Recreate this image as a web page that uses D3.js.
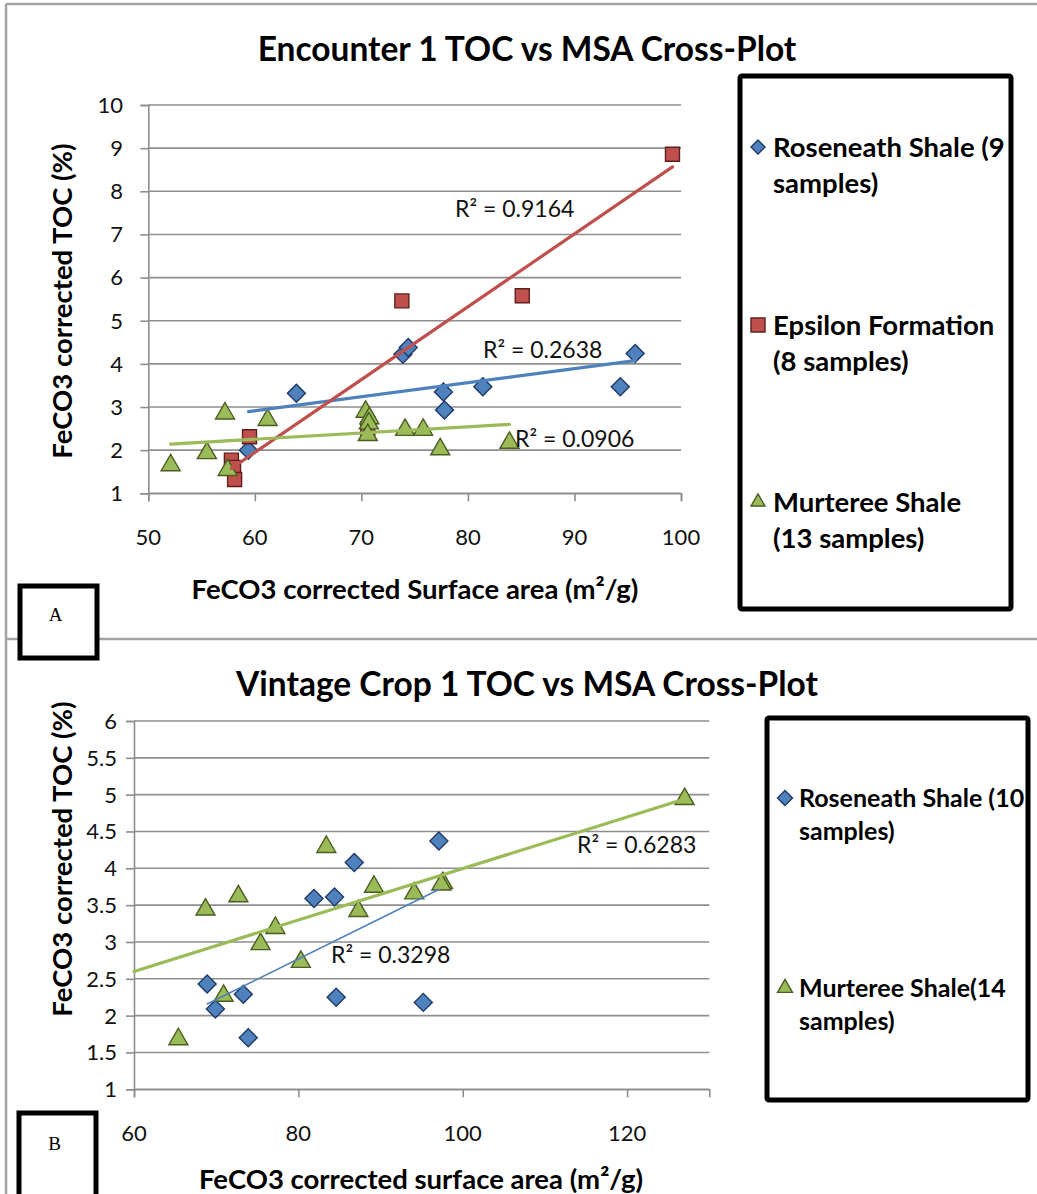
<!DOCTYPE html>
<html>
<head>
<meta charset="utf-8">
<script src="https://cdn.jsdelivr.net/npm/d3@7"></script>
<style>
  html, body { margin: 0; padding: 0; background: #fff; }
  svg { display: block; }
</style>
</head>
<body>
<svg id="fig" width="1037" height="1194"></svg>
<script>
// ---------- Encounter 1 ----------
const encXTicks = [50, 60, 70, 80, 90, 100];
const encYTicks = [1, 2, 3, 4, 5, 6, 7, 8, 9, 10];

const encRoseneathX = [59.4, 63.9, 73.9, 74.4, 77.7, 77.8, 81.4, 94.3, 95.7];
const encRoseneathY = [2.00, 3.32, 4.22, 4.38, 3.35, 2.93, 3.47, 3.47, 4.24];

const encEpsilonX = [57.8, 58.0, 58.1, 59.5, 70.6, 73.8, 85.1, 99.2];
const encEpsilonY = [1.77, 1.60, 1.32, 2.31, 2.50, 5.46, 5.58, 8.86];

const encMurtereeX = [52.1, 55.5, 57.2, 57.45, 61.2, 70.4, 70.75, 70.7, 70.6, 74.1, 75.8, 77.4, 83.9];
const encMurtereeY = [1.65, 1.93, 2.85, 1.54, 2.70, 2.89, 2.74, 2.62, 2.35, 2.47, 2.47, 2.02, 2.17];

const encLegend = [["Roseneath Shale (9", "samples)"], ["Epsilon Formation", "(8 samples)"], ["Murteree Shale", "(13 samples)"]];
const encR2 = ["R² = 0.2638", "R² = 0.9164", "R² = 0.0906"];
const encTrendSlope = [0.0326, 0.1688, 0.0144];
const encTrendIntercept = [0.957, -8.18, 1.39];

// ---------- Vintage Crop 1 ----------
const vinXTicks = [60, 80, 100, 120];
const vinYTicks = [1, 1.5, 2, 2.5, 3, 3.5, 4, 4.5, 5, 5.5, 6];

const vinRoseneathX = [68.9, 69.9, 73.3, 73.9, 81.9, 84.4, 86.8, 84.6, 95.2, 97.1];
const vinRoseneathY = [2.43, 2.09, 2.29, 1.70, 3.59, 3.61, 4.08, 2.25, 2.18, 4.37];

const vinMurtereeX = [65.4, 68.7, 70.9, 72.7, 75.4, 77.2, 80.3, 83.4, 87.3, 89.2, 94.1, 97.6, 97.4, 127.0];
const vinMurtereeY = [1.68, 3.44, 2.27, 3.62, 2.97, 3.19, 2.73, 4.29, 3.42, 3.75, 3.66, 3.80, 3.78, 4.94];

const vinLegend = [["Roseneath Shale (10", "samples)"], ["Murteree Shale(14", "samples)"]];
const vinR2 = ["R² = 0.3298", "R² = 0.6283"];
const vinTrendSlope = [0.0551, 0.03493];
const vinTrendIntercept = [-1.638, 0.504];

// ---------- styles ----------
const FONT = "Lato, 'Open Sans', sans-serif";
const GRID = "#8e8e8e";
const STYLE = {
  diamond:  { fill: "#4f81bd", stroke: "#1f3a66", line: "#4f81bd" },
  square:   { fill: "#c0504d", stroke: "#5e1f1d", line: "#c0504d" },
  triangle: { fill: "#9bbb59", stroke: "#4a5e22", line: "#9bbb59" }
};

const svg = d3.select("#fig");

// outer frame and divider
const frame = svg.append("g").attr("stroke", "#a3a3a3").attr("stroke-width", 2.5).attr("fill", "none");
frame.append("line").attr("x1", 6).attr("x2", 1037).attr("y1", 4).attr("y2", 4);
frame.append("line").attr("x1", 6).attr("x2", 6).attr("y1", 4).attr("y2", 1194);
frame.append("line").attr("x1", 6).attr("x2", 1037).attr("y1", 639).attr("y2", 639);

function symbolPath(kind, s) {
  if (kind === "diamond") return d3.symbol(d3.symbolSquare, s * s / 2)();
  if (kind === "square") return d3.symbol(d3.symbolSquare, s * s)();
  return d3.symbol(d3.symbolTriangle, s * s * Math.sqrt(3) / 4)();
}
function marker(g, kind, x, y, s) {
  const st = STYLE[kind];
  g.append("path")
    .attr("d", symbolPath(kind, s))
    .attr("transform", `translate(${x},${y})` + (kind === "diamond" ? " rotate(45)" : ""))
    .attr("fill", st.fill).attr("stroke", st.stroke).attr("stroke-width", 1.4);
}

function drawChart(c) {
  const g = svg.append("g");
  const x = d3.scaleLinear().domain(c.xDomain).range([c.left, c.right]);
  const y = d3.scaleLinear().domain(c.yDomain).range([c.bottom, c.top]);

  // horizontal gridlines
  g.append("g").selectAll("line").data(c.yTicks).join("line")
    .attr("x1", c.left).attr("x2", c.right)
    .attr("y1", d => y(d)).attr("y2", d => y(d))
    .attr("stroke", GRID).attr("stroke-width", 1.6);

  // axes
  const yAxis = d3.axisLeft(y).tickValues(c.yTicks).tickSize(8).tickFormat("");
  const ya = g.append("g").attr("transform", `translate(${c.left},0)`).call(yAxis);
  const xAxis = d3.axisBottom(x).tickValues(c.xTicks).tickSize(8).tickFormat("");
  const xa = g.append("g").attr("transform", `translate(0,${c.bottom})`).call(xAxis);
  [ya, xa].forEach(a => {
    a.select(".domain").attr("stroke", GRID).attr("stroke-width", 1.6);
    a.selectAll(".tick line").attr("stroke", GRID).attr("stroke-width", 1.6);
  });

  // tick labels
  g.append("g").selectAll("text").data(c.yTicks).join("text")
    .attr("x", c.yLabelX).attr("y", d => y(d)).attr("dy", "0.36em")
    .attr("text-anchor", "end").attr("font-family", FONT).attr("font-size", 22)
    .attr("fill", "#111").text(d => d);
  g.append("g").selectAll("text").data(c.xTicks).join("text")
    .attr("x", d => x(d)).attr("y", c.xLabelY)
    .attr("text-anchor", "middle").attr("font-family", FONT).attr("font-size", 22)
    .attr("fill", "#111").text(d => d);

  // markers
  c.series.forEach(s => {
    const mg = g.append("g");
    s.xs.forEach((xv, i) => marker(mg, s.kind, x(xv), y(s.ys[i]), s.size));
  });

  // linear trendlines
  c.series.forEach(s => {
    const [lo, hi] = d3.extent(s.xs);
    const x0 = s.trendFrom !== undefined ? s.trendFrom : lo;
    const pts = [x0, hi].map(v => [x(v), y(s.slope * v + s.intercept)]);
    g.append("path").attr("d", d3.line()(pts))
      .attr("stroke", STYLE[s.kind].line).attr("stroke-width", s.trendWidth)
      .attr("fill", "none").attr("stroke-linecap", "round");
  });

  // R² annotations
  c.series.forEach(s => {
    g.append("text").attr("x", s.r2At[0]).attr("y", s.r2At[1])
      .attr("font-family", FONT).attr("font-size", 23).attr("fill", "#111").text(s.r2);
  });

  // titles
  g.append("text").attr("x", c.titleX).attr("y", c.titleY).attr("text-anchor", "middle")
    .attr("font-family", FONT).attr("font-weight", "bold").attr("font-size", 33.5)
    .attr("fill", "#000").text(c.title);
  g.append("text").attr("x", c.xTitleX).attr("y", c.xTitleY).attr("text-anchor", "middle")
    .attr("font-family", FONT).attr("font-weight", "bold").attr("font-size", 27.5)
    .attr("fill", "#000").text(c.xTitle);
  g.append("text")
    .attr("transform", `translate(${c.yTitleX},${c.yTitleY}) rotate(-90)`)
    .attr("text-anchor", "middle").attr("dy", "0.35em")
    .attr("font-family", FONT).attr("font-weight", "bold").attr("font-size", 27.5)
    .attr("fill", "#000").text(c.yTitle);

  // legend box
  const lb = c.legend;
  g.append("rect").attr("x", lb.x).attr("y", lb.y).attr("width", lb.w).attr("height", lb.h)
    .attr("rx", 2).attr("fill", "#fff").attr("stroke", "#000").attr("stroke-width", 5);
  c.series.forEach((s, i) => {
    const cy = lb.rows[i];
    const lg = g.append("g");
    marker(lg, s.kind, lb.markerX, cy, lb.markerSize);
    s.legend.forEach((line, j) => {
      lg.append("text").attr("x", lb.textX).attr("y", cy + j * lb.lineGap).attr("dy", "0.36em")
        .attr("font-family", FONT).attr("font-weight", "bold").attr("font-size", lb.fontSize)
        .attr("fill", "#000").text(line);
    });
  });

  // panel letter box
  const pb = c.panel;
  g.append("rect").attr("x", pb.x).attr("y", pb.y).attr("width", pb.w).attr("height", pb.h)
    .attr("fill", "#fff").attr("stroke", "#000").attr("stroke-width", 5);
  g.append("text").attr("x", pb.x + pb.w / 2 - 3).attr("y", pb.textY).attr("text-anchor", "middle")
    .attr("font-family", "'Liberation Serif', 'DejaVu Serif', serif").attr("font-size", 19)
    .attr("fill", "#000").text(pb.letter);
}

drawChart({
  title: "Encounter 1 TOC vs MSA Cross-Plot", titleX: 527, titleY: 61,
  xTitle: "FeCO3 corrected Surface area (m²/g)", xTitleX: 415, xTitleY: 599,
  yTitle: "FeCO3 corrected TOC (%)", yTitleX: 62, yTitleY: 301,
  xDomain: [50, 100], yDomain: [1, 10], xTicks: encXTicks, yTicks: encYTicks,
  left: 148.3, right: 681, top: 105, bottom: 493.3,
  yLabelX: 123, xLabelY: 545,
  series: [
    { kind: "diamond", xs: encRoseneathX, ys: encRoseneathY, size: 18, slope: encTrendSlope[0], intercept: encTrendIntercept[0],
      trendWidth: 3.2, r2: encR2[0], r2At: [483, 358], legend: encLegend[0] },
    { kind: "square", xs: encEpsilonX, ys: encEpsilonY, size: 14, slope: encTrendSlope[1], intercept: encTrendIntercept[1],
      trendWidth: 3.2, r2: encR2[1], r2At: [455, 217], legend: encLegend[1] },
    { kind: "triangle", xs: encMurtereeX, ys: encMurtereeY, size: 19, slope: encTrendSlope[2], intercept: encTrendIntercept[2],
      trendWidth: 3.2, r2: encR2[2], r2At: [515, 447], legend: encLegend[2] }
  ],
  legend: { x: 740, y: 76, w: 271, h: 533, markerX: 758, markerSize: 14, textX: 773,
            rows: [147, 325, 502], lineGap: 36, fontSize: 27.5 },
  panel: { x: 20, y: 586, w: 77, h: 72, letter: "A", textY: 621 }
});

drawChart({
  title: "Vintage Crop 1 TOC vs MSA Cross-Plot", titleX: 527, titleY: 696,
  xTitle: "FeCO3 corrected surface area (m²/g)", xTitleX: 421, xTitleY: 1189,
  yTitle: "FeCO3 corrected TOC (%)", yTitleX: 62, yTitleY: 859,
  xDomain: [60, 130], yDomain: [1, 6], xTicks: vinXTicks, yTicks: vinYTicks,
  left: 134, right: 709.3, top: 721, bottom: 1089.3,
  yLabelX: 117, xLabelY: 1141,
  series: [
    { kind: "diamond", xs: vinRoseneathX, ys: vinRoseneathY, size: 18, slope: vinTrendSlope[0], intercept: vinTrendIntercept[0],
      trendWidth: 1.6, r2: vinR2[0], r2At: [331, 963], legend: vinLegend[0] },
    { kind: "triangle", xs: vinMurtereeX, ys: vinMurtereeY, size: 19, slope: vinTrendSlope[1], intercept: vinTrendIntercept[1],
      trendWidth: 3.2, trendFrom: 60, r2: vinR2[1], r2At: [577, 853], legend: vinLegend[1] }
  ],
  legend: { x: 767, y: 718, w: 261, h: 382, markerX: 785, markerSize: 15, textX: 799,
            rows: [798, 988], lineGap: 33, fontSize: 25 },
  panel: { x: 19, y: 1113, w: 77, h: 90, letter: "B", textY: 1150 }
});
</script>
</body>
</html>
